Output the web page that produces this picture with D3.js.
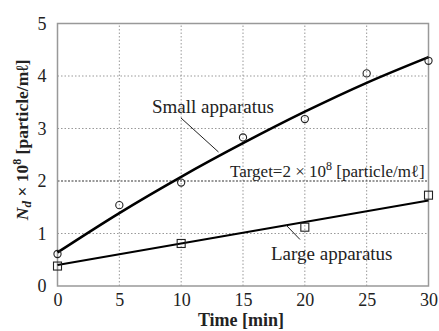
<!DOCTYPE html>
<html>
<head>
<meta charset="utf-8">
<script src="https://cdn.jsdelivr.net/npm/d3@7"></script>
<style>
  html, body { margin: 0; padding: 0; background: #fff; }
  svg { display: block; }
  text { font-family: "Liberation Serif", "Times New Roman", serif; fill: #222; }
</style>
</head>
<body>
<svg id="chart" width="439" height="331"></svg>
<script>
// Measured particle concentration (×10^8 particle/mℓ)
const smallTimes = [0, 5, 10, 15, 20, 25, 30];
const smallValues = [0.61, 1.54, 1.97, 2.83, 3.18, 4.05, 4.29];
const largeTimes = [0, 10, 20, 30];
const largeValues = [0.38, 0.81, 1.12, 1.73];

// Fitted trend curves
const smallFitTimes = [0, 5, 10, 15, 20, 25, 30];
const smallFitValues = [0.64, 1.39, 2.08, 2.72, 3.32, 3.87, 4.36];
const largeFitTimes = [0, 30];
const largeFitValues = [0.40, 1.63];

const targetValue = 2;
const xTicks = [0, 5, 10, 15, 20, 25, 30];
const yTicks = [0, 1, 2, 3, 4, 5];

const serif = "'Liberation Serif', 'Times New Roman', serif";
const svg = d3.select("#chart");
const margin = { left: 57.5, right: 10.5, top: 23.5, bottom: 45 };
const W = 439, H = 331;

const x = d3.scaleLinear().domain([0, 30]).range([margin.left, W - margin.right]);
const y = d3.scaleLinear().domain([0, 5]).range([H - margin.bottom, margin.top]);

// Grid lines
const grid = svg.append("g");
grid.selectAll("line.vx").data(xTicks.filter(d => d > 0 && d < 30)).join("line")
  .attr("x1", d => x(d)).attr("x2", d => x(d))
  .attr("y1", y(0)).attr("y2", y(5))
  .attr("stroke", "#999").attr("stroke-width", 1).attr("stroke-dasharray", "1.5,2");
grid.selectAll("line.hy").data(yTicks.filter(d => d > 0 && d < 5 && d !== targetValue)).join("line")
  .attr("x1", x(0)).attr("x2", x(30))
  .attr("y1", d => y(d)).attr("y2", d => y(d))
  .attr("stroke", "#999").attr("stroke-width", 1).attr("stroke-dasharray", "1.5,2");

// Target level
svg.append("line")
  .attr("x1", x(0)).attr("x2", x(30))
  .attr("y1", y(targetValue)).attr("y2", y(targetValue))
  .attr("stroke", "#333").attr("stroke-width", 1.2).attr("stroke-dasharray", "2,1.5");

// Frame
svg.append("rect")
  .attr("x", x(0)).attr("y", y(5))
  .attr("width", x(30) - x(0)).attr("height", y(0) - y(5))
  .attr("fill", "none").attr("stroke", "#999").attr("stroke-width", 1.5);

// Axes (tick labels)
const xAxis = d3.axisBottom(x).tickValues(xTicks).tickFormat(d3.format("d")).tickSize(0).tickPadding(7);
const gx = svg.append("g").attr("transform", `translate(0,${y(0)})`).call(xAxis)
  .attr("font-family", serif).attr("font-size", 18);
gx.select(".domain").remove();
gx.selectAll("text").attr("fill", "#222");

const yAxis = d3.axisLeft(y).tickValues(yTicks).tickFormat(d3.format("d")).tickSize(0).tickPadding(11);
const gy = svg.append("g").attr("transform", `translate(${x(0)},0)`).call(yAxis)
  .attr("font-family", serif).attr("font-size", 18);
gy.select(".domain").remove();
gy.selectAll("text").attr("fill", "#222");

// Fitted curves
const line = d3.line().x(d => x(d[0])).y(d => y(d[1])).curve(d3.curveMonotoneX);
svg.append("path")
  .datum(d3.zip(smallFitTimes, smallFitValues))
  .attr("d", line).attr("fill", "none").attr("stroke", "#000").attr("stroke-width", 2.6);
svg.append("path")
  .datum(d3.zip(largeFitTimes, largeFitValues))
  .attr("d", line).attr("fill", "none").attr("stroke", "#000").attr("stroke-width", 2);

// Markers
svg.selectAll("circle.s").data(d3.zip(smallTimes, smallValues)).join("circle")
  .attr("cx", d => x(d[0])).attr("cy", d => y(d[1])).attr("r", 3.6)
  .attr("fill", "none").attr("stroke", "#222").attr("stroke-width", 1.1);
const sq = 8;
svg.selectAll("rect.l").data(d3.zip(largeTimes, largeValues)).join("rect")
  .attr("x", d => x(d[0]) - sq / 2).attr("y", d => y(d[1]) - sq / 2)
  .attr("width", sq).attr("height", sq)
  .attr("fill", "none").attr("stroke", "#222").attr("stroke-width", 1.1);

// Annotations
svg.append("text").attr("x", 152).attr("y", 113).attr("font-size", 19).text("Small apparatus");
svg.append("line").attr("x1", 181).attr("y1", 118).attr("x2", 218.5).attr("y2", 152)
  .attr("stroke", "#222").attr("stroke-width", 1);

svg.append("text").attr("x", 271).attr("y", 260).attr("font-size", 19).text("Large apparatus");
svg.append("line").attr("x1", 286).attr("y1", 225).attr("x2", 300).attr("y2", 239.5)
  .attr("stroke", "#222").attr("stroke-width", 1);

const tgt = svg.append("text").attr("x", 230).attr("y", 177).attr("font-size", 17);
tgt.append("tspan").text("Target=2 × 10");
tgt.append("tspan").attr("dy", -7).attr("font-size", 12).text("8");
tgt.append("tspan").attr("dy", 7).text(" [particle/mℓ]");

// Axis titles
svg.append("text").attr("x", 241).attr("y", 326)
  .attr("text-anchor", "middle").attr("font-size", 18).attr("font-weight", "bold")
  .text("Time [min]");

const yt = svg.append("text")
  .attr("transform", `translate(28,${(y(0) + y(5)) / 2 - 15}) rotate(-90)`)
  .attr("text-anchor", "middle").attr("font-size", 17.5).attr("font-weight", "bold");
yt.append("tspan").attr("font-style", "italic").text("N");
yt.append("tspan").attr("font-style", "italic").attr("font-size", 13).attr("dy", 3).text("d");
yt.append("tspan").attr("dy", -3).text(" × 10");
yt.append("tspan").attr("font-size", 12).attr("dy", -7).text("8");
yt.append("tspan").attr("dy", 7).text(" [particle/mℓ]");
</script>
</body>
</html>
